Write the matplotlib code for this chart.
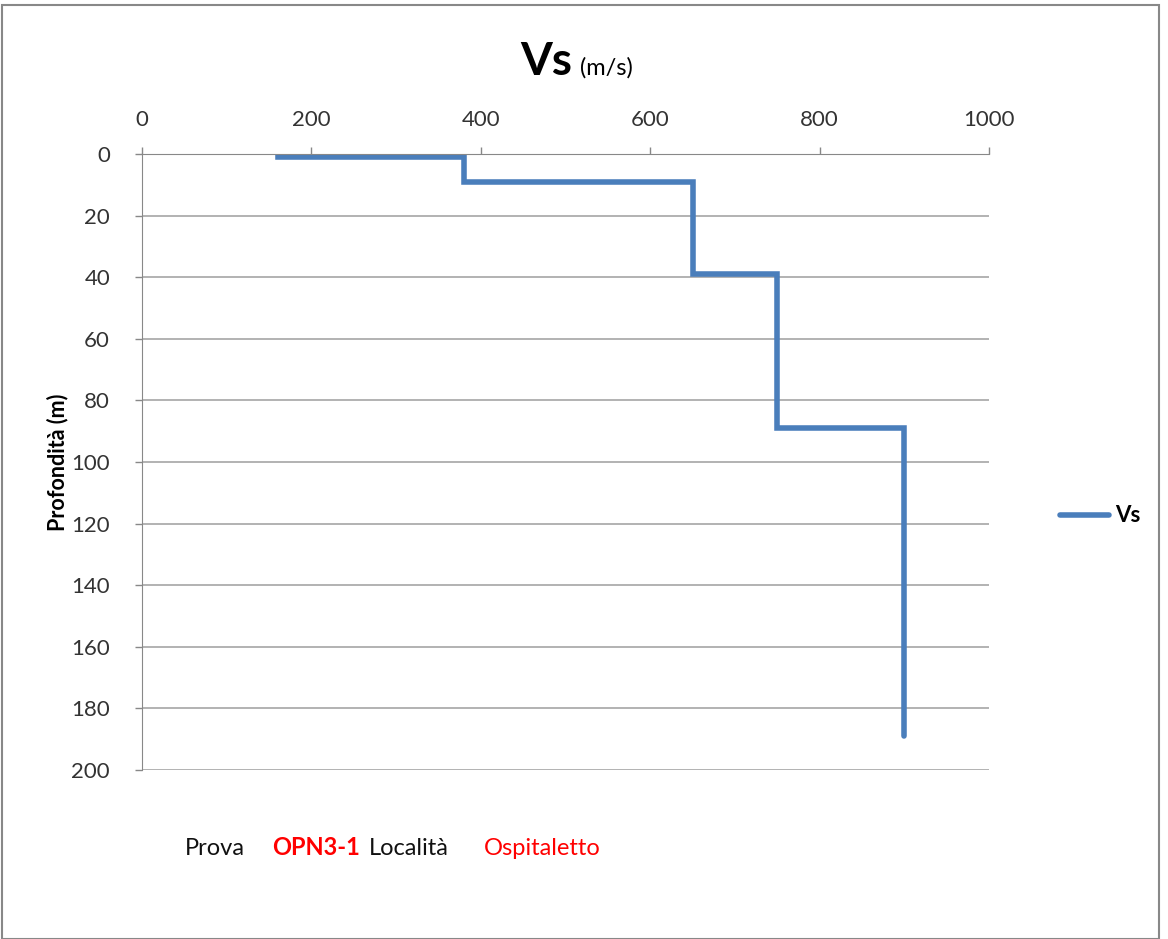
import matplotlib
matplotlib.use("Agg")
import matplotlib.pyplot as plt
from matplotlib.patches import Rectangle

# profilo Vs a gradini
vs = [160, 160, 380, 380, 650, 650, 750, 750, 900, 900]
depth = [0, 1, 1, 9, 9, 39, 39, 89, 89, 189]
x_ticks = [0, 200, 400, 600, 800, 1000]
y_ticks = [0, 20, 40, 60, 80, 100, 120, 140, 160, 180, 200]

plt.rcParams['font.family'] = ['Lato', 'DejaVu Sans']

fig = plt.figure(figsize=(11.68, 9.39), dpi=100)
ax = fig.add_axes([142/1168, 1 - 770/939, 847/1168, 616/939])

ax.plot(vs, depth, color='#4a7ebb', lw=4, solid_joinstyle='miter', solid_capstyle='round', label='Vs')

ax.set_xlim(0, 1000)
ax.set_ylim(200, 0)
ax.set_xticks(x_ticks)
ax.set_yticks(y_ticks)
ax.xaxis.tick_top()
ax.tick_params(axis='both', colors='#888888', labelcolor='#333333', labelsize=16, length=5, width=1)
ax.tick_params(axis='x', pad=12)
ax.tick_params(axis='y', pad=18)
ax.grid(axis='y', color='#a6a6a6', lw=1.2)
ax.set_axisbelow(True)
for s in ['right', 'bottom']:
    ax.spines[s].set_visible(False)
for s in ['left', 'top']:
    ax.spines[s].set_color('#888888')

ax.set_ylabel('Profondità (m)', fontsize=15.5, fontweight='bold', labelpad=2)

# titolo
fig.text(572/1168, 1 - 75/939, 'Vs', fontsize=33, fontweight='bold', ha='right', va='baseline')
fig.text(580/1168, 1 - 75/939, '(m/s)', fontsize=17, ha='left', va='baseline')

# legenda
leg = ax.legend(loc='center left', bbox_to_anchor=(1040/1168, 1 - 516/939), bbox_transform=fig.transFigure,
                frameon=False, prop={'size': 16, 'weight': 'bold'}, handlelength=2.2, handletextpad=0.3)

# testo in basso
yb = 1 - 855/939
fig.text(185/1168, yb, 'Prova', fontsize=17, color='#111111')
fig.text(272/1168, yb, 'OPN3-1', fontsize=17, color='red', fontweight='bold')
fig.text(369/1168, yb, 'Località', fontsize=17, color='#111111')
fig.text(484/1168, yb, 'Ospitaletto', fontsize=17, color='red')

# bordo
fig.patches.append(Rectangle((2/1168, 0), 1157/1168, 1 - 5/939, transform=fig.transFigure,
                             fill=False, edgecolor='#888888', lw=1.5))

fig.savefig('out.png', dpi=100)
